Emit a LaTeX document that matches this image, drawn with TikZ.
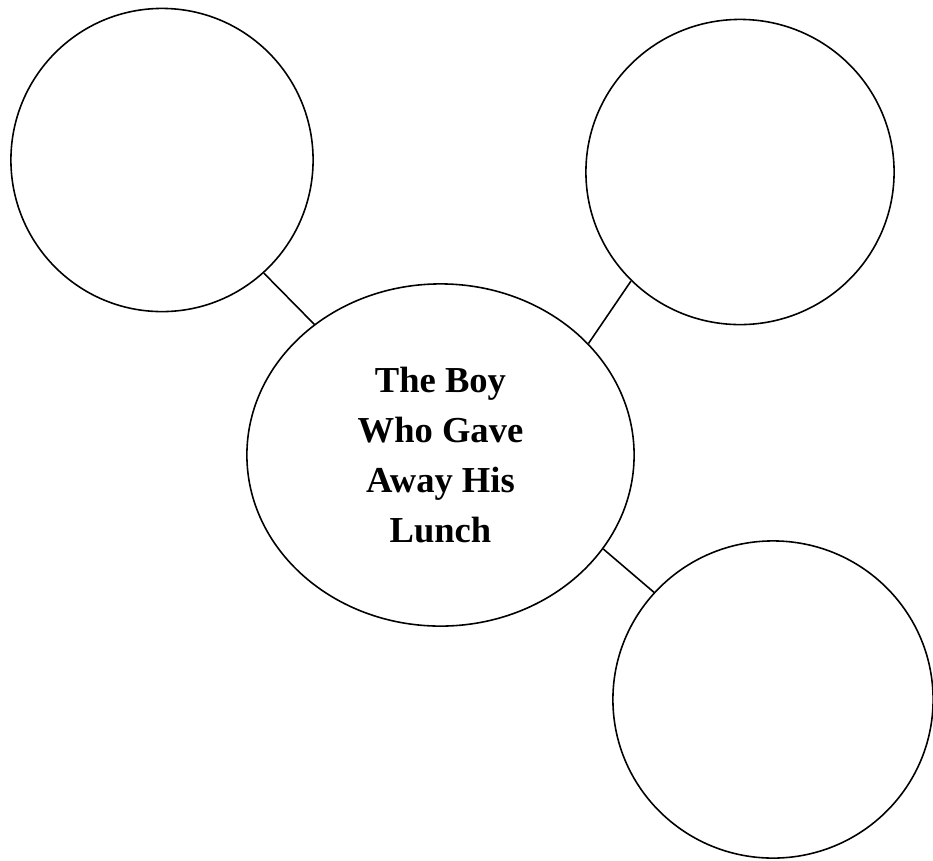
\documentclass[tikz,border=0pt]{standalone}
\usepackage{fontspec}
\setmainfont{Liberation Serif}
\usepackage{tikz}
\usetikzlibrary{shapes.geometric}

\begin{document}
\begin{tikzpicture}[x=0.01cm, y=-0.01cm,
    bubble/.style={draw, ellipse, line width=0.45pt, inner sep=0pt},
    hubtext/.style={font=\fontsize{10.4}{14.2}\selectfont\bfseries, align=center},
    link/.style={draw, line width=0.45pt}
  ]
    \useasboundingbox (0,0) rectangle (933,860);

    \node[bubble, minimum width=3.02cm, minimum height=3.03cm] (leftbubble) at (162, 160) {};
    \node[bubble, minimum width=3.08cm, minimum height=3.05cm] (rightbubble) at (740, 172) {};
    \node[bubble, minimum width=3.20cm, minimum height=3.17cm] (lowbubble) at (773, 699.5) {};
    \node[bubble, minimum width=3.87cm, minimum height=3.42cm, hubtext] (hub) at (440.5, 455) {The Boy\\Who Gave\\Away His\\Lunch};

    \draw[link] (leftbubble.-48.5) -- (hub.134.9);
    \draw[link] (rightbubble.225.8) -- (hub.37.9);
    \draw[link] (lowbubble.138.4) -- (hub.-30.3);
\end{tikzpicture}
\end{document}
